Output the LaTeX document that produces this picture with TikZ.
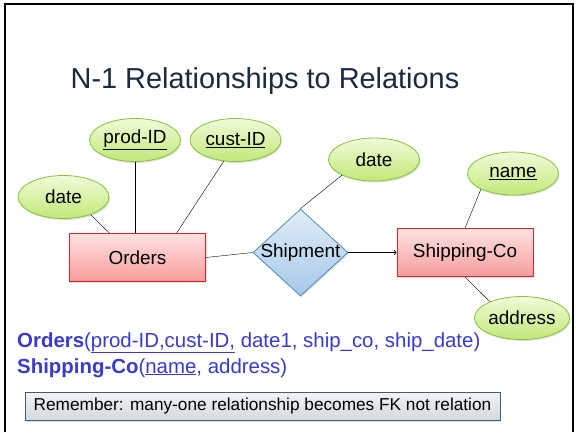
\documentclass[tikz,border=0pt]{standalone}
\usepackage{fontspec}
\setmainfont{Liberation Sans}
\usepackage{xcolor}
\usetikzlibrary{shapes.geometric}
\usetikzlibrary{shadows}
\usetikzlibrary{arrows}
\definecolor{attrtop}{HTML}{F1FBD9}
\definecolor{attrbot}{HTML}{C2E878}
\definecolor{attrline}{HTML}{86C23A}
\definecolor{enttop}{HTML}{FFE2E2}
\definecolor{entbot}{HTML}{F69C9C}
\definecolor{entline}{HTML}{E02424}
\definecolor{reltop}{HTML}{E2EDF8}
\definecolor{relbot}{HTML}{A6C8EA}
\definecolor{relline}{HTML}{4C8DB3}
\definecolor{titlecol}{HTML}{1B2A3E}
\definecolor{textblue}{HTML}{3A3AD0}
\definecolor{notetop}{HTML}{F1F3F5}
\definecolor{notebot}{HTML}{D3D9DE}
\definecolor{noteline}{HTML}{3F5F70}
\tikzset{%
    softshadow/.style={drop shadow={opacity=0.25,shadow xshift=1pt,shadow yshift=-1.5pt}},
    entity/.style={shape=rectangle,draw=entline,thick,top color=enttop,bottom color=entbot,
        minimum width=136bp,minimum height=48bp,inner sep=0pt,font=\fontsize{19}{22}\selectfont,softshadow},
    attribute/.style={shape=ellipse,draw=attrline,thick,top color=attrtop,bottom color=attrbot,
        minimum width=91bp,minimum height=43bp,inner sep=0pt,font=\fontsize{19}{22}\selectfont,softshadow},
    relship/.style={shape=diamond,draw=relline,thick,top color=reltop,bottom color=relbot,
        minimum width=95bp,minimum height=87bp,inner sep=0pt,softshadow,
        label={[font=\fontsize{19}{22}\selectfont]center:#1}},
    note/.style={shape=rectangle,draw=noteline,thick,top color=notetop,bottom color=notebot,
        minimum width=475bp,minimum height=28bp,inner sep=0pt,font=\fontsize{17.3}{20}\selectfont,softshadow},
    link/.style={thin,black},
}

\begin{document}
\begin{tikzpicture}[x=1bp,y=-1bp,>=to]
        \useasboundingbox (0,0) rectangle (576,432);
        \draw[line width=1.6pt] (5,432) -- (5,4) -- (573,4) -- (573,432);

        \node[text=titlecol,font=\fontsize{29}{34}\selectfont] (title) at (265,81) {N-1 Relationships to Relations};

        % entities and relationship
        \node[entity] (orders) at (137.5,257.5) {Orders};
        \node[relship=Shipment] (ship) at (300.5,252.5) {};
        \node[entity] (shipco) at (465,252.5) {Shipping-Co};

        % attributes
        \node[attribute] (date1) at (63.5,197) {date};
        \node[attribute] (prodid) at (135,140) {\underline{prod-ID}};
        \node[attribute] (custid) at (235.5,140) {\underline{cust-ID}};
        \node[attribute] (date2) at (374,159.5) {date};
        \node[attribute] (name) at (513,173.5) {\underline{name}};

        \draw[link] (date1.327) -- (orders.139);
        \draw[link] (prodid.south) -- (prodid.south |- orders.north);
        \draw[link] (custid.241) -- (orders.32);
        \draw[link] (orders.east) -- (ship.west);
        \draw[link] (date2.206) -- (ship.north);
        \draw[link,->,thick] (ship.east) -- (shipco.west);
        \draw[link] (name.206) -- (shipco.north);

        % relations
        \node[anchor=base west,text=textblue,font=\fontsize{20.5}{24}\selectfont,inner sep=0pt] (rel1) at (17,347)
            {\textbf{Orders}(\underline{prod-ID,cust-ID,} date1, ship\_co, ship\_date)};
        \node[anchor=base west,text=textblue,font=\fontsize{20.5}{24}\selectfont,inner sep=0pt] (rel2) at (17,373)
            {\textbf{Shipping-Co}(\underline{name}, address)};

        \node[attribute] (addr) at (522,318) {address};
        \draw[link] (shipco.south) -- (addr.153);

        \node[note] (remember) at (262.5,406) {Remember: many-one relationship becomes FK not relation};
    \end{tikzpicture}
\end{document}
